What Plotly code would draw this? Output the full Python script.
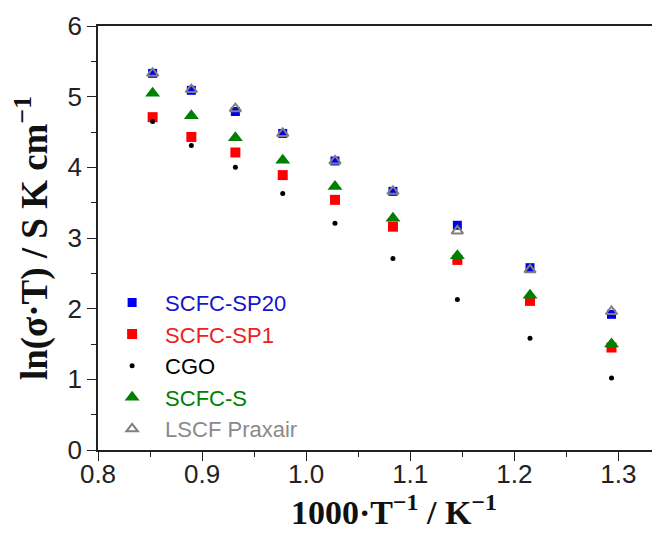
import plotly.graph_objects as go

# 1000/T values (K^-1)
inv_T = [0.8525, 0.8897, 0.9320, 0.9775, 1.0277, 1.0834, 1.1453, 1.2151, 1.2934]

sp20 = [5.33, 5.09, 4.79, 4.48, 4.09, 3.66, 3.18, 2.58, 1.92]
sp1 = [4.71, 4.43, 4.21, 3.89, 3.54, 3.16, 2.69, 2.11, 1.45]
cgo = [4.65, 4.31, 4.00, 3.63, 3.21, 2.71, 2.13, 1.58, 1.02]
scfc_s = [5.05, 4.73, 4.42, 4.10, 3.73, 3.28, 2.75, 2.19, 1.50]
lscf = [5.33, 5.10, 4.83, 4.48, 4.09, 3.66, 3.10, 2.55, 1.96]

names = ["SCFC-SP20", "SCFC-SP1", "CGO", "SCFC-S", "LSCF Praxair"]
text_colors = ["#1515cc", "#ee2020", "#000000", "#008000", "#8a8a8a"]

x_title = "1000·T<sup>−1</sup> / K<sup>−1</sup>"
y_title = "ln(σ·T) / S K cm<sup>−1</sup>"

fig = go.Figure()

styles = [
    dict(symbol="square", size=9, color="#0000ee"),
    dict(symbol="square", size=10, color="#ff0000"),
    dict(symbol="circle", size=5, color="#000000"),
    dict(symbol="triangle-up", size=13, color="#008000"),
    dict(symbol="triangle-up-open", size=10, color="#808080", line=dict(width=2, color="#808080")),
]
series = [sp20, sp1, cgo, scfc_s, lscf]

for nm, ys, st, tc in zip(names, series, styles, text_colors):
    fig.add_trace(go.Scatter(
        x=inv_T, y=ys, mode="markers",
        name=f"<span style='color:{tc}'>{nm}</span>",
        marker=st,
    ))

axis_common = dict(
    showline=True, linecolor="#222", linewidth=1.5,
    ticks="outside", ticklen=9, tickwidth=1.3, tickcolor="#222",
    showgrid=False, zeroline=False, automargin=False,
    tickfont=dict(family="Liberation Sans, Arial", size=26, color="#222"),
)

title_font = dict(family="Liberation Serif, Times New Roman", size=34, color="#111", weight="bold")

fig.update_xaxes(
    range=[0.8, 1.34], dtick=0.1, tick0=0.8, tickformat=".1f",
    minor=dict(dtick=0.05, ticks="outside", ticklen=5, tickwidth=1.2, tickcolor="#222"),
    mirror=True, ticklabelstandoff=-9,
    **axis_common,
)
fig.update_yaxes(
    range=[0, 6], dtick=1,
    minor=dict(dtick=0.5, ticks="outside", ticklen=5, tickwidth=1.2, tickcolor="#222"),
    title=dict(text=y_title, font={**title_font, "size": 37}, standoff=22),
    **axis_common,
)

fig.add_annotation(
    text=x_title, xref="paper", yref="paper", x=0.527, y=-0.142,
    xanchor="center", yanchor="middle", showarrow=False, font=title_font,
)

fig.update_layout(
    width=652, height=530,
    margin=dict(l=90, r=0, t=18, b=88),
    plot_bgcolor="white", paper_bgcolor="white",
    font=dict(family="Liberation Sans, Arial"),
    legend=dict(
        x=0.002, y=0.397, xanchor="left", yanchor="top",
        font=dict(family="Liberation Sans, Arial", size=22),
        bgcolor="rgba(0,0,0,0)", itemwidth=56,
    ),
    showlegend=True,
)

fig.write_html("out.html")
